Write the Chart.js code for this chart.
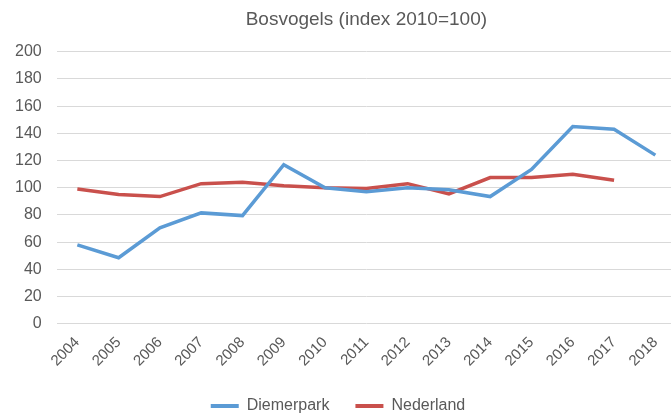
<!DOCTYPE html>
<html>
<head>
<meta charset="utf-8">
<script src="https://cdn.jsdelivr.net/npm/chart.js@4/dist/chart.umd.min.js"></script>
<style>
  html, body { margin: 0; padding: 0; background: #fff; overflow: hidden; }
  #wrap { width: 680px; height: 417px; }
</style>
</head>
<body>
<div id="wrap"><canvas id="chart" width="680" height="417"></canvas></div>
<script>
(function(){
  var years = ['2004','2005','2006','2007','2008','2009','2010','2011','2012','2013','2014','2015','2016','2017','2018'];
  var diemerpark = [58, 48.5, 70.5, 81.5, 79.5, 117, 100, 97, 100, 98.5, 93.5, 113.5, 145, 143, 124];
  var nederland = [99, 95, 93.5, 103, 104, 101.5, 100, 99.5, 103, 95.5, 107.5, 107.5, 110, 105.5, null];
  var yTicks = [0, 20, 40, 60, 80, 100, 120, 140, 160, 180, 200];

  var font = '"Liberation Sans", Arial, sans-serif';
  var grey = '#595959';

  new Chart(document.getElementById('chart'), {
    type: 'line',
    data: {
      labels: years,
      datasets: [{
        label: 'Diemerpark',
        data: diemerpark,
        borderColor: '#5b9bd5',
        backgroundColor: '#5b9bd5',
        borderWidth: 3.5,
        pointRadius: 0,
        tension: 0
      }, {
        label: 'Nederland',
        data: nederland,
        borderColor: '#c9504c',
        backgroundColor: '#c9504c',
        borderWidth: 3.5,
        pointRadius: 0,
        tension: 0
      }]
    },
    options: {
      responsive: false,
      animation: false,
      layout: { padding: { top: 8, right: 4, left: 0, bottom: -7 } },
      plugins: {
        title: {
          display: true,
          text: 'Bosvogels (index 2010=100)',
          fullSize: false,
          color: grey,
          font: { family: font, size: 19, weight: 'normal' },
          padding: { top: 0, bottom: 21 }
        },
        legend: {
          position: 'bottom',
          labels: {
            color: grey,
            font: { family: font, size: 16 },
            boxWidth: 28,
            boxHeight: 4,
            padding: 26,
            generateLabels: function(c){
              return Chart.defaults.plugins.legend.labels.generateLabels(c).map(function(l){
                l.lineWidth = 0;
                return l;
              });
            }
          }
        },
        tooltip: { enabled: false }
      },
      scales: {
        y: {
          min: 0,
          max: 200,
          afterBuildTicks: function(axis){
            axis.ticks = yTicks.map(function(v){ return { value: v }; });
          },
          border: { display: false },
          grid: { color: '#d9d9d9', lineWidth: 1, drawTicks: false },
          ticks: { color: grey, font: { family: font, size: 16 }, padding: 15 }
        },
        x: {
          offset: true,
          border: { display: false },
          grid: { display: false },
          ticks: {
            color: grey,
            font: { family: font, size: 15 },
            maxRotation: 45,
            minRotation: 45,
            padding: 2,
            autoSkip: false
          }
        }
      }
    }
  });
})();
</script>
</body>
</html>
